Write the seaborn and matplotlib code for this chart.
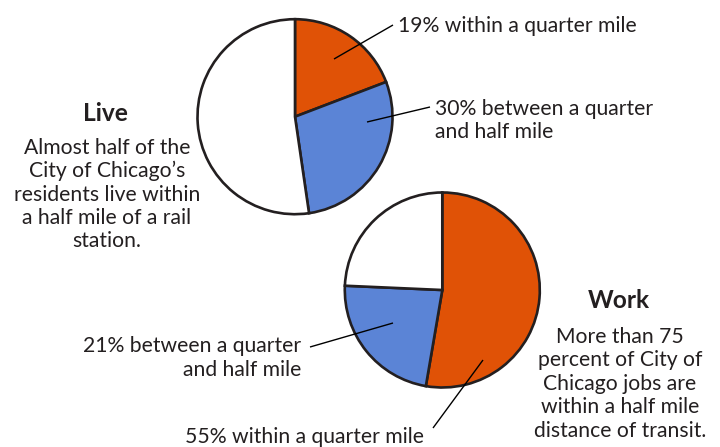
import matplotlib
matplotlib.use("Agg")
import matplotlib.pyplot as plt
import seaborn as sns
from matplotlib import font_manager

# ---- data ----
slice_names = ["Within a quarter mile", "Between a quarter and half mile", "Farther"]
live_values = [19.2, 28.5, 52.3]
work_values = [52.7, 23.0, 24.3]
slice_colors = ["#E05206", "#5B84D6", "#FFFFFF"]

live_title = "Live"
live_text = ["Almost half of the", "City of Chicago\u2019s", "residents live within",
             "a half mile of a rail", "station."]
work_title = "Work"
work_text = ["More than 75", "percent of City of", "Chicago jobs are",
             "within a half mile", "distance of transit."]
live_near_label = ["19% within a quarter mile"]
live_mid_label = ["30% between a quarter", "and half mile"]
work_mid_label = ["21% between a quarter", "and half mile"]
work_near_label = ["55% within a quarter mile"]

INK = "#231F20"
W, H = 720, 447

sns.set_theme(style="white")
available = {f.name for f in font_manager.fontManager.ttflist}
cands = ["Liberation Sans Narrow", "DejaVu Sans Condensed", "Lato", "Open Sans", "DejaVu Sans"]
family = next(f for f in cands if f in available)
plt.rcParams["font.family"] = [family, "DejaVu Sans"]

fig = plt.figure(figsize=(7.2, 4.47), dpi=100)
fig.patch.set_facecolor("white")
ax = fig.add_axes([0, 0, 1, 1])


def Y(y):
    return H - y


wp = dict(edgecolor=INK, linewidth=1.9, joinstyle="miter")
ax.pie(live_values, colors=slice_colors, startangle=90, counterclock=False,
       center=(295, Y(116.7)), radius=97.5, wedgeprops=wp)
ax.pie(work_values, colors=slice_colors, startangle=90, counterclock=False,
       center=(442.3, Y(290)), radius=97.5, wedgeprops=wp)
ax.set_xlim(0, W)
ax.set_ylim(0, H)
ax.set_aspect("equal")
ax.axis("off")

# ---- fit font sizes to the reference text widths ----
renderer = fig.canvas.get_renderer()


def width_at(s, size, weight="normal"):
    t = fig.text(0, 0, s, fontsize=size, fontweight=weight)
    w = t.get_window_extent(renderer).width
    t.remove()
    return w


body_size = 12 * 237.0 / width_at(live_near_label[0], 12)
title_size = 12 * 62.0 / width_at(work_title, 12, "bold")

# ---- leader lines ----
for (x0, y0), (x1, y1) in [((334, 59), (393, 25)),
                           ((367, 122), (430, 107)),
                           ((393, 323), (310, 347)),
                           ((483, 360), (433, 428))]:
    ax.plot([x0, x1], [Y(y0), Y(y1)], color="black", lw=1.0, solid_capstyle="butt")


def lines(txts, x, y0, dy, ha, size=None, weight="normal"):
    for i, s in enumerate(txts):
        ax.text(x, Y(y0 + i * dy), s, ha=ha, va="baseline", color=INK,
                fontsize=size or body_size, fontweight=weight)


lines([live_title], 105, 120.7, 0, "center", title_size, "bold")
lines(live_text, 107, 154, 23.3, "center")
lines([work_title], 619, 308.3, 0, "center", title_size, "bold")
lines(work_text, 620, 342.7, 23.5, "center")
lines(live_near_label, 398, 31.7, 0, "left")
lines(live_mid_label, 435, 115, 22.7, "left")
lines(work_mid_label, 301, 352.3, 23.4, "right")
lines(work_near_label, 185, 442.7, 0, "left")

fig.savefig("out.png", dpi=100, facecolor="white")
